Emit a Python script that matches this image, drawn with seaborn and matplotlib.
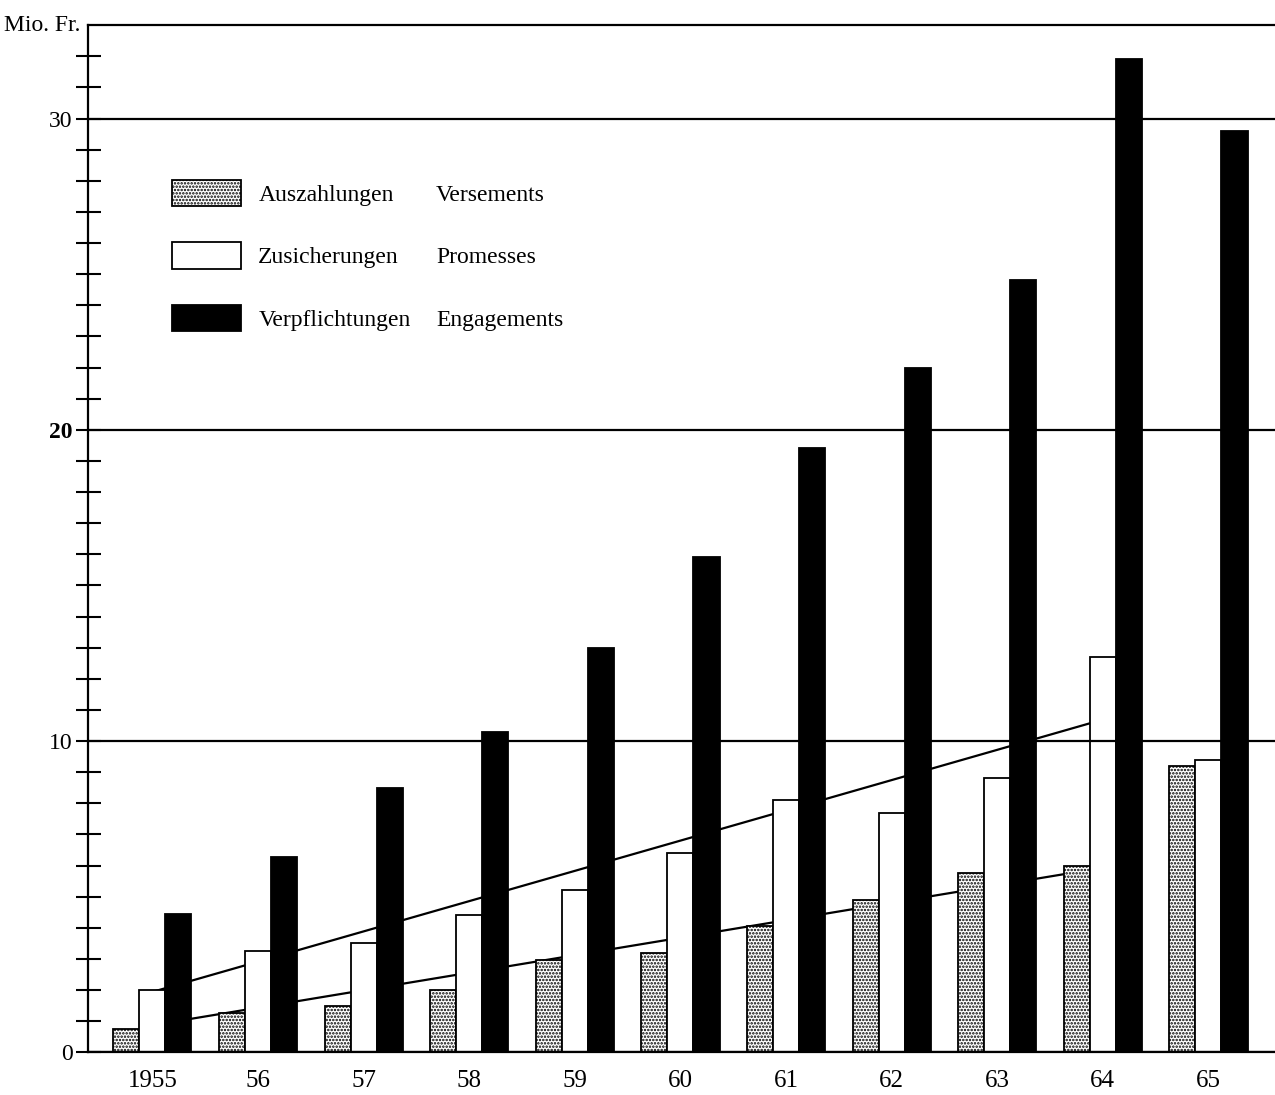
import numpy as np
import pandas as pd
import seaborn as sns
import matplotlib.pyplot as plt
import matplotlib.transforms as mtransforms
from matplotlib.patches import Patch
from matplotlib.ticker import FixedLocator

# ---- data ----
years = ["1955", "56", "57", "58", "59", "60", "61", "62", "63", "64", "65"]
auszahlungen = [0.75, 1.25, 1.5, 2.0, 2.95, 3.2, 4.05, 4.9, 5.75, 6.0, 9.2]
zusicherungen = [2.0, 3.25, 3.5, 4.4, 5.2, 6.4, 8.1, 7.7, 8.8, 12.7, 9.4]
verpflichtungen = [4.45, 6.26, 8.5, 10.3, 13.0, 15.9, 19.4, 22.0, 24.8, 31.9, 29.6]
series_de = ["Auszahlungen", "Zusicherungen", "Verpflichtungen"]
series_fr = ["Versements", "Promesses", "Engagements"]
trend_years = ["1955", "64"]
trend_zus = [1.94, 10.69]
trend_aus = [0.87, 5.93]
y_major = [0, 10, 20, 30]
y_top = 33

sns.set_theme(style="white")
plt.rcParams["font.family"] = ["Liberation Serif", "DejaVu Serif"]
plt.rcParams["text.color"] = "black"
plt.rcParams["xtick.color"] = "black"
plt.rcParams["ytick.color"] = "black"
plt.rcParams["axes.labelcolor"] = "black"
plt.rcParams["hatch.linewidth"] = 1.2
plt.rcParams["hatch.color"] = "black"

fig = plt.figure(figsize=(12.75, 10.95), dpi=100)
ax = fig.add_axes([0.069, 0.039, 0.931, 0.938])

df = pd.DataFrame({
    "Jahr": years * 3,
    "Wert": auszahlungen + zusicherungen + verpflichtungen,
    "Serie": np.repeat(series_de, len(years)),
})
palette = {series_de[0]: "white", series_de[1]: "white", series_de[2]: "black"}
sns.barplot(data=df, x="Jahr", y="Wert", hue="Serie", order=years, hue_order=series_de,
            palette=palette, saturation=1, width=0.74, edgecolor="black", linewidth=1.3,
            legend=False, ax=ax, zorder=2)
for bar in ax.containers[0]:
    bar.set_hatch(".....")

# trend lines (behind bars)
tx = [years.index(y) for y in trend_years]
ax.plot(tx, trend_zus, color="black", lw=1.6, zorder=1)
ax.plot(tx, trend_aus, color="black", lw=1.6, zorder=1)

ax.set_ylim(0, y_top)
ax.set_xlim(-0.61, 10.63)
ax.set_yticks(y_major, labels=[str(v) for v in y_major])
ax.yaxis.set_minor_locator(FixedLocator([v for v in range(1, y_top) if v not in y_major]))
ax.yaxis.grid(True, which="major", color="black", lw=1.6)
ax.set_axisbelow(False)
ax.tick_params(axis="y", which="both", direction="inout", length=18, width=1.5,
               color="black", labelsize=17, labelcolor="black", pad=2, left=True)
ax.tick_params(axis="x", length=0, pad=13, labelsize=18, labelcolor="black")
for lab in ax.get_yticklabels():
    if lab.get_text() == "20":
        lab.set_fontweight("bold")
ax.set_xlabel("")
ax.set_ylabel("")
for s in ["left", "bottom", "top"]:
    ax.spines[s].set_visible(True)
    ax.spines[s].set_color("black")
    ax.spines[s].set_linewidth(1.6)
ax.spines["right"].set_visible(False)

trans = mtransforms.blended_transform_factory(ax.transAxes, ax.transData)
ax.text(-0.006, y_top, "Mio. Fr.", transform=trans, ha="right", va="center",
        fontsize=17, color="black")

# legend
handles = [Patch(facecolor="white", edgecolor="black", hatch=".....", lw=1.3),
           Patch(facecolor="white", edgecolor="black", lw=1.3),
           Patch(facecolor="black", edgecolor="black", lw=1.3)]
common = dict(loc="upper left", bbox_transform=fig.transFigure, frameon=False, fontsize=17,
              handleheight=1.34, labelspacing=1.54, borderpad=0, borderaxespad=0,
              labelcolor="black")
leg1 = ax.legend(handles, series_de, bbox_to_anchor=(0.135, 0.836),
                 handlelength=2.9, handletextpad=0.75, **common)
ax.add_artist(leg1)
blank = [Patch(facecolor="none", edgecolor="none") for _ in series_fr]
ax.legend(blank, series_fr, bbox_to_anchor=(0.342, 0.836),
          handlelength=0, handletextpad=0, **common)

fig.savefig("out.png", dpi=100)
